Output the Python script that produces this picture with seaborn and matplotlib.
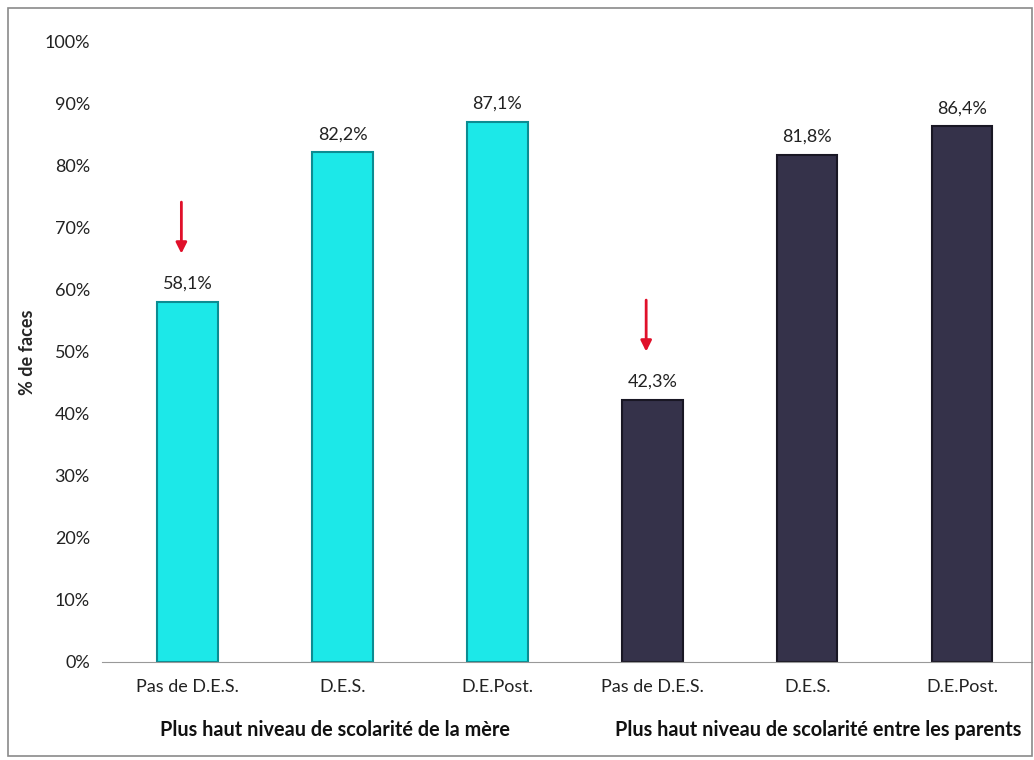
import numpy as np
from matplotlib import pyplot as plt
from matplotlib.patches import Rectangle
import pandas as pd
import seaborn as sns

# Values
levels = ['Pas de D.E.S.', 'D.E.S.', 'D.E.Post.', 'Pas de D.E.S.', 'D.E.S.', 'D.E.Post.']
groups = ['Plus haut niveau de scolarité de la mère', 'Plus haut niveau de scolarité de la mère',
          'Plus haut niveau de scolarité de la mère', 'Plus haut niveau de scolarité entre les parents',
          'Plus haut niveau de scolarité entre les parents', 'Plus haut niveau de scolarité entre les parents']
values = [58.1, 82.2, 87.1, 42.3, 81.8, 86.4]
group_names = ['Plus haut niveau de scolarité de la mère', 'Plus haut niveau de scolarité entre les parents']
flagged = [0, 3]  # bars marked with a red arrow
yticks = [0, 10, 20, 30, 40, 50, 60, 70, 80, 90, 100]

colors = ['#1ce8e8', '#35324a']
edges = ['#0b8c92', '#191724']

sns.set_style('white')
plt.rcParams['font.family'] = ['Lato', 'DejaVu Sans']

df = pd.DataFrame({'pos': [str(i) for i in range(len(values))], 'val': values, 'grp': groups})

fig = plt.figure(figsize=(10.34, 7.6), dpi=100)
ax = fig.add_axes([0.099, 0.129, 0.899, 0.816])
sns.barplot(data=df, x='pos', y='val', hue='grp', hue_order=group_names, palette=colors,
            dodge=False, width=0.39, saturation=1, legend=False, ax=ax)
for i, (bar, v) in enumerate(zip(ax.patches, values)):
    bar.set_edgecolor(edges[group_names.index(groups[i])])
    bar.set_linewidth(1.5)
    ax.text(bar.get_x() + bar.get_width() / 2, v + 1.6, f'{v:.1f}%'.replace('.', ','),
            ha='center', va='bottom', fontsize=13, color='#222222')

for i in flagged:
    ax.annotate('', xy=(i - 0.04, values[i] + 7.3), xytext=(i - 0.04, values[i] + 16.5),
                arrowprops=dict(arrowstyle='-|>', color='#e0102a', lw=2, mutation_scale=16))

ax.set_ylim(0, 100)
ax.set_xlim(-0.55, 5.45)
ax.set_yticks(yticks)
ax.set_yticklabels([f'{t}%' for t in yticks], fontsize=13, color='#222222')
ax.set_xticks(range(len(levels)))
ax.set_xticklabels(levels, fontsize=13, color='#222222')
ax.tick_params(axis='x', length=0, pad=12)
ax.tick_params(axis='y', length=0, pad=9)
ax.set_xlabel('')
ax.set_ylabel('% de faces', fontsize=13, fontweight='bold', labelpad=6)
for s in ['top', 'right', 'left']:
    ax.spines[s].set_visible(False)
ax.spines['bottom'].set_color('#999999')

for k, name in enumerate(group_names):
    ax.text(0.95 + 3.12 * k, -10.9, name, ha='center', va='center', fontsize=14.3,
            fontweight='bold', color='#111111')

fig.patches.append(Rectangle((0.008, 0.005), 0.99, 0.985, transform=fig.transFigure,
                             fill=False, edgecolor='#8a8a8a', lw=1.2))

fig.savefig('out.png', dpi=100)
